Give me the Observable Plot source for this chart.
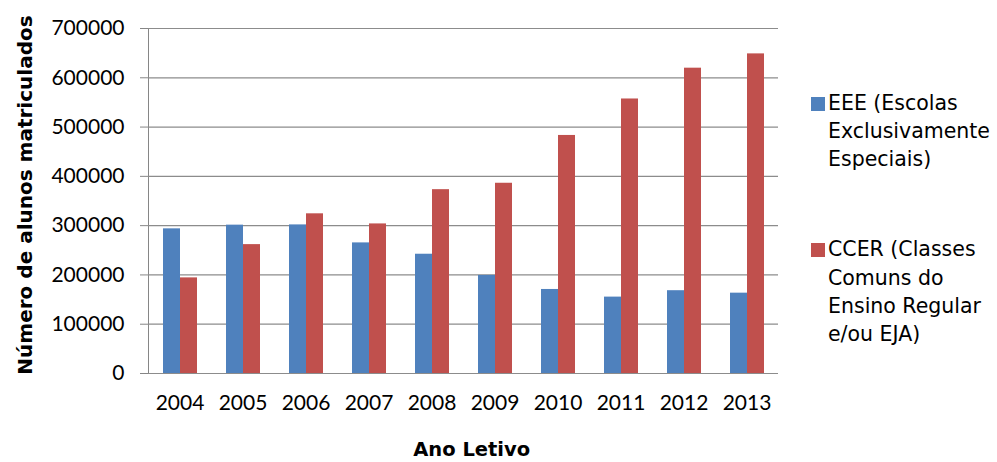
<!DOCTYPE html>
<html>
<head>
<meta charset="utf-8">
<script src="https://cdn.jsdelivr.net/npm/d3@7"></script>
<script src="https://cdn.jsdelivr.net/npm/@observablehq/plot@0.6"></script>
<style>
  html, body { margin: 0; padding: 0; background: #fff; }
  #wrap { position: relative; width: 997px; height: 462px; overflow: hidden; }
  #wrap svg text { fill: #000; }
  .legend { position: absolute; font-family: "DejaVu Sans"; font-size: 20.5px; line-height: 28.3px; color: #000; }
  .swatch { position: absolute; width: 14px; height: 14px; }
  .title { position: absolute; font-family: "DejaVu Sans"; font-weight: bold; font-size: 20px; line-height: 16px; color: #000; white-space: nowrap; text-align: center; }
</style>
</head>
<body>
<div id="wrap"></div>
<script>
const years = ["2004", "2005", "2006", "2007", "2008", "2009", "2010", "2011", "2012", "2013"];
const eee = [293500, 301000, 301500, 265000, 242000, 199000, 170500, 155000, 168000, 163000];
const ccer = [194000, 261500, 324000, 303500, 373000, 386000, 483000, 557000, 619500, 648500];
const seriesKeys = ["EEE", "CCER"];
const seriesLines = [
  ["EEE (Escolas", "Exclusivamente", "Especiais)"],
  ["CCER (Classes", "Comuns do", "Ensino Regular", "e/ou EJA)"]
];
const colors = ["#4f81bd", "#c0504d"];
const yTicks = [0, 100000, 200000, 300000, 400000, 500000, 600000, 700000];
const xTitle = "Ano Letivo";
const yTitle = "Número de alunos matriculados";

const rows = years.flatMap((yr, i) => [
  {year: yr, series: seriesKeys[0], value: eee[i]},
  {year: yr, series: seriesKeys[1], value: ccer[i]}
]);

const chart = Plot.plot({
  width: 997,
  height: 462,
  marginLeft: 147,
  marginRight: 219,
  marginTop: 28,
  marginBottom: 89,
  style: {fontFamily: "Lato", fontSize: "21px", color: "#868686", background: "transparent", overflow: "visible"},
  facet: {data: rows, x: "year"},
  fx: {domain: years, padding: 0, label: null, axis: "bottom", tickSize: 0, tickPadding: 22},
  x: {domain: seriesKeys, paddingInner: 0, paddingOuter: 0.78, axis: null},
  y: {domain: [0, 700000], ticks: yTicks, tickFormat: d => String(d), tickSize: 8, tickPadding: 16, line: true, label: null},
  color: {domain: seriesKeys, range: colors},
  marks: [
    Plot.ruleY(yTicks, {stroke: "#8c8c8c", strokeWidth: 1.2}),
    Plot.barY(rows, {x: "series", y: "value", fill: "series"})
  ]
});

const wrap = document.getElementById("wrap");
wrap.appendChild(chart);

// Legend
const legendTops = [88.7, 235.4];
seriesLines.forEach((lines, i) => {
  const sw = document.createElement("div");
  sw.className = "swatch";
  sw.style.left = "811px";
  sw.style.top = (legendTops[i] + 8) + "px";
  sw.style.background = colors[i];
  wrap.appendChild(sw);
  const t = document.createElement("div");
  t.className = "legend";
  t.style.left = "828px";
  t.style.top = legendTops[i] + "px";
  t.innerHTML = lines.map(s => `<div>${s}</div>`).join("");
  wrap.appendChild(t);
});

// Axis titles
const xt = document.createElement("div");
xt.className = "title";
xt.textContent = xTitle;
xt.style.fontSize = "19.5px";
xt.style.left = "371.7px";
xt.style.width = "200px";
xt.style.top = "442px";
wrap.appendChild(xt);

const yt = document.createElement("div");
yt.className = "title";
yt.textContent = yTitle;
yt.style.width = "400px";
yt.style.lineHeight = "24px";
yt.style.left = (25 - 200) + "px";
yt.style.top = (195 - 12) + "px";
yt.style.transform = "rotate(-90deg)";
wrap.appendChild(yt);
</script>
</body>
</html>
